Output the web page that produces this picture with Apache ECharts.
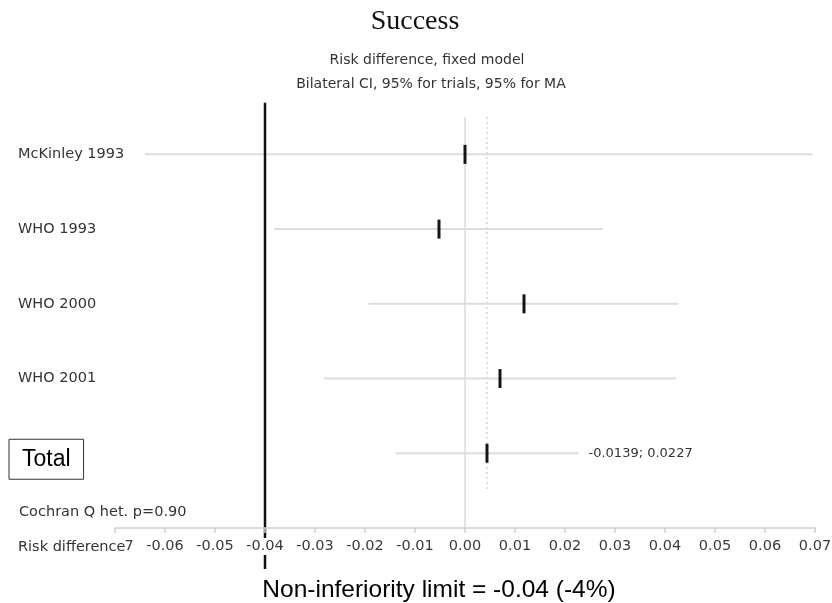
<!DOCTYPE html>
<html>
<head>
<meta charset="utf-8">
<script src="https://cdn.jsdelivr.net/npm/echarts@6/dist/echarts.min.js"></script>
<style>
html, body { margin: 0; padding: 0; background: #fff; }
#main { width: 832px; height: 603px; }
</style>
</head>
<body>
<div id="main"></div>
<script>
// rows, top to bottom
var studies = ['McKinley 1993', 'WHO 1993', 'WHO 2000', 'WHO 2001', 'Total'];
var estimate = [0.0000, -0.0052, 0.0118, 0.0070, 0.0044];
var ciLow = [-0.0640, -0.0382, -0.0193, -0.0282, -0.0139];
var ciHigh = [0.0695, 0.0276, 0.0426, 0.0422, 0.0227];
var totalCiText = '-0.0139; 0.0227';

var xTicks = [-0.07, -0.06, -0.05, -0.04, -0.03, -0.02, -0.01, 0, 0.01, 0.02, 0.03, 0.04, 0.05, 0.06, 0.07];
var xTickLabels = ['-0.07', '-0.06', '-0.05', '-0.04', '-0.03', '-0.02', '-0.01', '0.00',
                   '0.01', '0.02', '0.03', '0.04', '0.05', '0.06', '0.07'];

var nonInfLimit = -0.04;
var pooled = 0.0044;
var hetText = 'Cochran Q het. p=0.90';

var chart = echarts.init(document.getElementById('main'));

var ciData = [];
for (var i = 0; i < studies.length; i++) {
    ciData.push([i, ciLow[i], ciHigh[i], estimate[i]]);
}

function renderCI(params, api) {
    var row = api.value(0);
    var p0 = api.coord([api.value(1), row]);
    var p1 = api.coord([api.value(2), row]);
    var pe = api.coord([api.value(3), row]);
    var children = [
        { type: 'line', shape: { x1: p0[0], y1: p0[1], x2: p1[0], y2: p1[1] },
          style: { stroke: '#dcdcdc', lineWidth: 2 } },
        { type: 'line', shape: { x1: pe[0], y1: pe[1] - 9.5, x2: pe[0], y2: pe[1] + 9.5 },
          style: { stroke: '#151515', lineWidth: 3 } }
    ];
    if (params.dataIndex === studies.length - 1) {
        children.push({ type: 'text', x: p1[0] + 10, y: p1[1],
            style: { text: totalCiText, fill: '#333', font: '13px "DejaVu Sans"', verticalAlign: 'middle' } });
    }
    return { type: 'group', children: children };
}

// vertical reference line: [x, yFrom, yTo]
function vline(color, width, dash) {
    return function (params, api) {
        var a = api.coord([api.value(0), api.value(1)]);
        var b = api.coord([api.value(0), api.value(2)]);
        return { type: 'line', shape: { x1: a[0], y1: a[1], x2: b[0], y2: b[1] },
            style: { stroke: color, lineWidth: width, lineDash: dash } };
    };
}

var labelFont = 'DejaVu Sans';

var option = {
    animation: false,
    backgroundColor: '#fff',
    grid: { left: 115, right: 17, top: 117, bottom: 75, outerBoundsMode: 'none' },
    xAxis: {
        type: 'value', min: -0.07, max: 0.07, z: 5,
        axisLine: { show: true, onZero: false, lineStyle: { color: '#cfcfcf', width: 1.5 } },
        axisTick: { show: true, length: 5, customValues: xTicks, lineStyle: { color: '#cfcfcf', width: 1.5 } },
        splitLine: { show: false },
        axisLabel: {
            customValues: xTicks,
            formatter: function (v) { return xTickLabels[Math.round((v + 0.07) * 100)]; },
            color: '#3a3a3a', fontSize: 14.5, fontFamily: labelFont,
            backgroundColor: '#fff', padding: [1, 2], margin: 10
        }
    },
    yAxis: [{
        type: 'value', min: -0.5, max: 5, inverse: true,
        axisLine: { show: false }, axisTick: { show: false }, splitLine: { show: false },
        axisLabel: {
            customValues: [0, 1, 2, 3],
            formatter: function (v) { return studies[v]; },
            align: 'left', margin: 97, color: '#333', fontSize: 14.5, fontFamily: labelFont
        }
    }, {
        type: 'value', min: -0.5, max: 5, inverse: true, position: 'left',
        axisLine: { show: false }, axisTick: { show: false }, splitLine: { show: false },
        axisLabel: {
            customValues: [4.08],
            formatter: function () { return studies[4]; },
            align: 'left', margin: 106, color: '#000', fontSize: 23, fontFamily: 'Liberation Sans',
            lineHeight: 26, borderColor: '#333', borderWidth: 1, padding: [7, 13, 7, 13]
        }
    }],
    graphic: [
        { type: 'text', x: 415, y: 22, z: 100,
          style: { text: 'Success', font: '28px "Liberation Serif"', fill: '#111', align: 'center', verticalAlign: 'middle' } },
        { type: 'text', x: 427, y: 60, z: 100,
          style: { text: 'Risk difference, fixed model', font: '14px "DejaVu Sans"', fill: '#333', align: 'center', verticalAlign: 'middle' } },
        { type: 'text', x: 431, y: 84, z: 100,
          style: { text: 'Bilateral CI, 95% for trials, 95% for MA', font: '14px "DejaVu Sans"', fill: '#333', align: 'center', verticalAlign: 'middle' } },
        { type: 'text', x: 19, y: 512, z: 100,
          style: { text: hetText, font: '14.5px "DejaVu Sans"', fill: '#333', align: 'left', verticalAlign: 'middle' } },
        { type: 'text', x: 18, y: 547, z: 100,
          style: { text: 'Risk difference', font: '14.5px "DejaVu Sans"', fill: '#333', align: 'left', verticalAlign: 'middle',
                   backgroundColor: '#fff', padding: [2, 0, 2, 0] } },
        { type: 'text', x: 439, y: 590, z: 100,
          style: { text: 'Non-inferiority limit = ' + nonInfLimit.toFixed(2) + ' (-4%)', font: '24.5px "Liberation Sans"', fill: '#000', align: 'center', verticalAlign: 'middle' } }
    ],
    series: [
        { type: 'custom', z: 1, clip: false, renderItem: vline('#d8d8d8', 1.5, null), data: [[0, -0.5, 5]] },
        { type: 'custom', z: 1, clip: false, renderItem: vline('#bdbdbd', 1, [2, 3]), data: [[pooled, -0.5, 4.5]] },
        { type: 'custom', z: 2, clip: false, renderItem: renderCI, data: ciData },
        { type: 'custom', z: 3, clip: false, renderItem: vline('#111', 2.5, null), data: [[nonInfLimit, -0.69, 5.55]] }
    ]
};

chart.setOption(option);
</script>
</body>
</html>
